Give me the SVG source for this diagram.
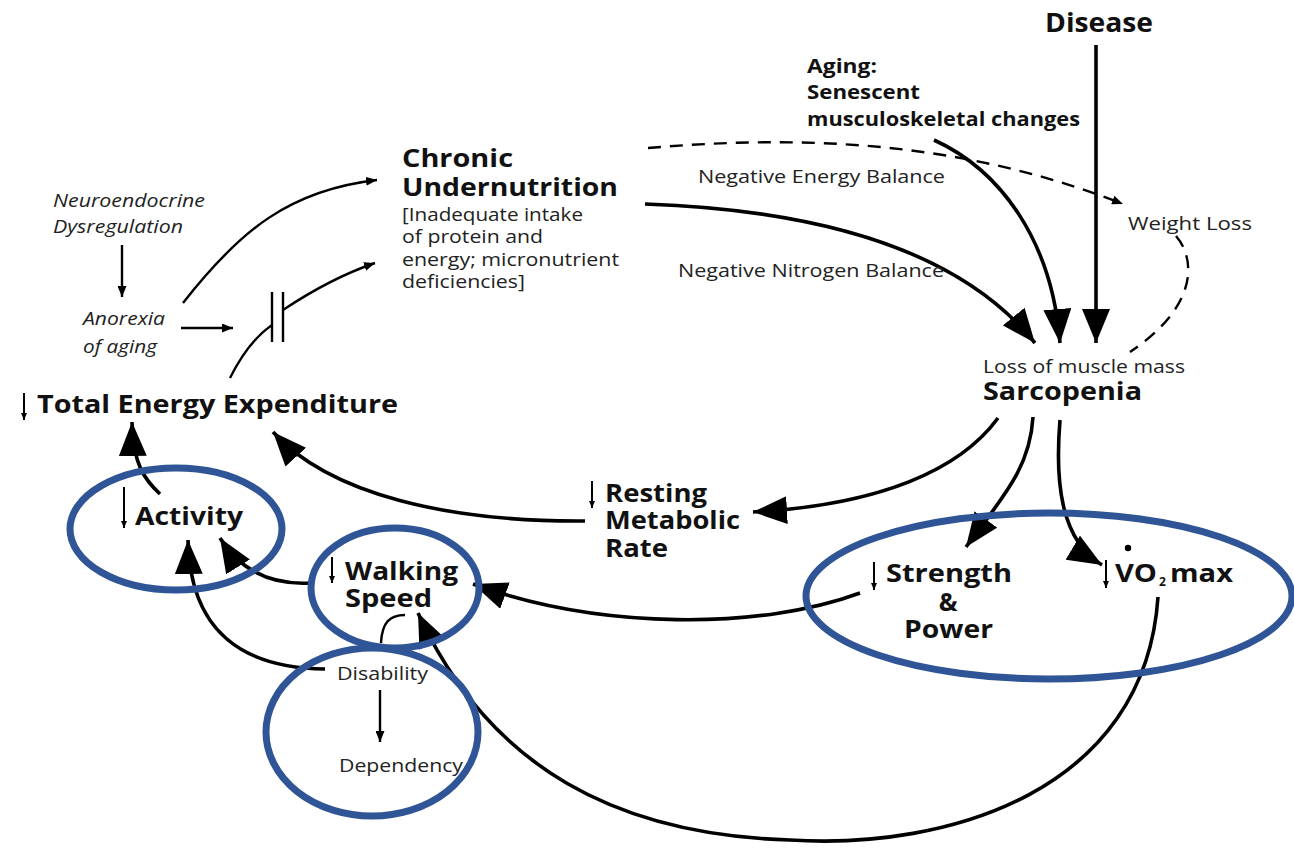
<svg xmlns="http://www.w3.org/2000/svg" width="1294" height="848" viewBox="0 0 1294 848">
  <style>
    text { font-family: "Open Sans", "Liberation Sans", sans-serif; fill: #111; }
    .b { font-weight: 700; font-size: 25px; }
    .bl { font-weight: 700; font-size: 27px; }
    .bs { font-weight: 700; font-size: 20px; }
    .sub { font-weight: 700; font-size: 12px; }
    .r { font-size: 19px; fill: #222; }
    .i { font-style: italic; font-size: 18px; fill: #222; }
    .line { fill: none; stroke: #000; stroke-width: 3.6; }
    .thin { fill: none; stroke: #000; stroke-width: 2.4; }
    .dash { fill: none; stroke: #000; stroke-width: 2.4; stroke-dasharray: 13 9; }
    .tick { fill: none; stroke: #000; stroke-width: 2; }
    .ring { fill: none; stroke: #2f5597; stroke-width: 7; }
  </style>
  <defs>
    <marker id="ah" viewBox="0 0 34 28" refX="34" refY="14" markerWidth="34" markerHeight="28" markerUnits="userSpaceOnUse" orient="auto">
      <path d="M0,0 L34,14 L0,28 Z" fill="#000"/>
    </marker>
    <marker id="sh" viewBox="0 0 11 9" refX="11" refY="4.5" markerWidth="11" markerHeight="9" markerUnits="userSpaceOnUse" orient="auto">
      <path d="M0,0 L11,4.5 L0,9 Z" fill="#000"/>
    </marker>
    <marker id="th" viewBox="0 0 7 6" refX="7" refY="3" markerWidth="7" markerHeight="6" markerUnits="userSpaceOnUse" orient="auto">
      <path d="M0,0 L7,3 L0,6 Z" fill="#000"/>
    </marker>
  </defs>
  <rect width="1294" height="848" fill="#fff"/>

  <!-- connectors -->
  <g id="connectors">
    <path class="line" d="M1096 45 L1096 343" marker-end="url(#ah)"/>
    <path class="line" d="M934 140 C1000 170 1052 240 1060 343" marker-end="url(#ah)"/>
    <path class="line" d="M645 204 C820 210 960 250 1035 343" marker-end="url(#ah)"/>
    <path class="dash" d="M648 148 C800 135 960 140 1123 204" marker-end="url(#sh)"/>
    <path class="dash" d="M1176 236 C1195 258 1200 305 1130 352"/>
    <path class="line" d="M998 418 C960 470 880 505 753 512" marker-end="url(#ah)"/>
    <path class="line" d="M1033 417 C1030 470 1000 500 966 547" marker-end="url(#ah)"/>
    <path class="line" d="M1060 420 C1055 480 1060 540 1102 565" marker-end="url(#ah)"/>
    <path class="line" d="M585 521 C450 522 330 495 273 432" marker-end="url(#ah)"/>
    <path class="line" d="M160 494 C145 480 133 465 132 422" marker-end="url(#ah)"/>
    <path class="line" d="M310 583 C270 585 240 570 220 538" marker-end="url(#ah)"/>
    <path class="line" d="M325 669 C240 668 190 630 188 540" marker-end="url(#ah)"/>
    <path class="line" d="M860 593 C760 630 600 630 473 584" marker-end="url(#ah)"/>
    <path class="line" d="M1158 597 C1145 790 950 850 790 840 C620 835 490 770 418 613" marker-end="url(#ah)"/>
    <path class="thin" d="M405 615 C390 615 382 622 381 643"/>
    <path class="thin" d="M380 690 L380 742" marker-end="url(#sh)"/>
    <path class="thin" d="M122 245 L122 297" marker-end="url(#sh)"/>
    <path class="thin" d="M181 328 L233 328" marker-end="url(#sh)"/>
    <path class="thin" d="M183 303 C240 230 290 190 377 180" marker-end="url(#sh)"/>
    <path class="thin" d="M230 378 C243 352 256 336 272 325"/>
    <path class="thin" d="M272 292 L272 342 M283 292 L283 342"/>
    <path class="thin" d="M283 310 C310 292 340 275 375 263" marker-end="url(#sh)"/>
  </g>

  <!-- nodes -->
  <g id="disease">
    <text class="bl" x="1045" y="32" textLength="108" lengthAdjust="spacingAndGlyphs">Disease</text>
  </g>
  <g id="aging">
    <text class="bs" x="807" y="73" textLength="70" lengthAdjust="spacingAndGlyphs">Aging:</text>
    <text class="bs" x="807" y="99" textLength="113" lengthAdjust="spacingAndGlyphs">Senescent</text>
    <text class="bs" x="807" y="126" textLength="273" lengthAdjust="spacingAndGlyphs">musculoskeletal changes</text>
  </g>
  <g id="undernutrition">
    <text class="b" x="402" y="167" textLength="111" lengthAdjust="spacingAndGlyphs">Chronic</text>
    <text class="b" x="402" y="196" textLength="216" lengthAdjust="spacingAndGlyphs">Undernutrition</text>
    <text class="r" x="402" y="221" textLength="181" lengthAdjust="spacingAndGlyphs">[Inadequate intake</text>
    <text class="r" x="402" y="243" textLength="141" lengthAdjust="spacingAndGlyphs">of protein and</text>
    <text class="r" x="402" y="266" textLength="217" lengthAdjust="spacingAndGlyphs">energy; micronutrient</text>
    <text class="r" x="402" y="288" textLength="123" lengthAdjust="spacingAndGlyphs">deficiencies]</text>
  </g>
  <g id="balance-labels">
    <text class="r" x="698" y="183" textLength="247" lengthAdjust="spacingAndGlyphs">Negative Energy Balance</text>
    <text class="r" x="678" y="277" textLength="266" lengthAdjust="spacingAndGlyphs">Negative Nitrogen Balance</text>
  </g>
  <g id="weight-loss">
    <text class="r" x="1128" y="230" textLength="124" lengthAdjust="spacingAndGlyphs">Weight Loss</text>
  </g>
  <g id="sarcopenia">
    <text class="r" x="983" y="373" textLength="202" lengthAdjust="spacingAndGlyphs">Loss of muscle mass</text>
    <text class="b" x="983" y="400" textLength="159" lengthAdjust="spacingAndGlyphs">Sarcopenia</text>
  </g>
  <g id="neuroendocrine">
    <text class="i" x="53" y="207" textLength="152" lengthAdjust="spacingAndGlyphs">Neuroendocrine</text>
    <text class="i" x="53" y="233" textLength="130" lengthAdjust="spacingAndGlyphs">Dysregulation</text>
  </g>
  <g id="anorexia">
    <text class="i" x="83" y="325" textLength="82" lengthAdjust="spacingAndGlyphs">Anorexia</text>
    <text class="i" x="83" y="353" textLength="74" lengthAdjust="spacingAndGlyphs">of aging</text>
  </g>
  <g id="total-energy">
    <path class="tick" d="M24 393 L24 420" marker-end="url(#th)"/>
    <text class="b" x="37" y="413" textLength="361" lengthAdjust="spacingAndGlyphs">Total Energy Expenditure</text>
  </g>
  <g id="resting-metabolic-rate">
    <path class="tick" d="M592 481 L592 508" marker-end="url(#th)"/>
    <text class="b" x="605" y="502" textLength="102" lengthAdjust="spacingAndGlyphs">Resting</text>
    <text class="b" x="605" y="529" textLength="135" lengthAdjust="spacingAndGlyphs">Metabolic</text>
    <text class="b" x="605" y="557" textLength="63" lengthAdjust="spacingAndGlyphs">Rate</text>
  </g>
  <g id="activity">
    <path class="tick" d="M124 487 L124 528" marker-end="url(#th)"/>
    <text class="b" x="135" y="525" textLength="108" lengthAdjust="spacingAndGlyphs">Activity</text>
    <ellipse class="ring" cx="176" cy="529" rx="106" ry="61"/>
  </g>
  <g id="walking-speed">
    <path class="tick" d="M332 557 L332 583" marker-end="url(#th)"/>
    <text class="b" x="345" y="580" textLength="113" lengthAdjust="spacingAndGlyphs">Walking</text>
    <text class="b" x="345" y="607" textLength="87" lengthAdjust="spacingAndGlyphs">Speed</text>
    <ellipse class="ring" cx="395" cy="588" rx="84" ry="60"/>
  </g>
  <g id="disability">
    <text class="r" x="337" y="680" textLength="91" lengthAdjust="spacingAndGlyphs">Disability</text>
    <text class="r" x="339" y="772" textLength="124" lengthAdjust="spacingAndGlyphs">Dependency</text>
    <ellipse class="ring" cx="372" cy="732" rx="106" ry="84"/>
  </g>
  <g id="strength-vo2">
    <path class="tick" d="M874 562 L874 590" marker-end="url(#th)"/>
    <text class="b" x="886" y="582" textLength="126" lengthAdjust="spacingAndGlyphs">Strength</text>
    <text class="b" x="948" y="611" text-anchor="middle">&amp;</text>
    <text class="b" x="904" y="638" textLength="89" lengthAdjust="spacingAndGlyphs">Power</text>
    <path class="tick" d="M1106 560 L1106 588" marker-end="url(#th)"/>
    <circle cx="1128" cy="548" r="3.2" fill="#000"/>
    <text class="b" x="1115" y="582" textLength="42" lengthAdjust="spacingAndGlyphs">VO</text>
    <text class="sub" x="1159" y="586">2</text>
    <text class="b" x="1170" y="582" textLength="63" lengthAdjust="spacingAndGlyphs">max</text>
    <ellipse class="ring" cx="1049" cy="596" rx="243" ry="83"/>
  </g>
</svg>
